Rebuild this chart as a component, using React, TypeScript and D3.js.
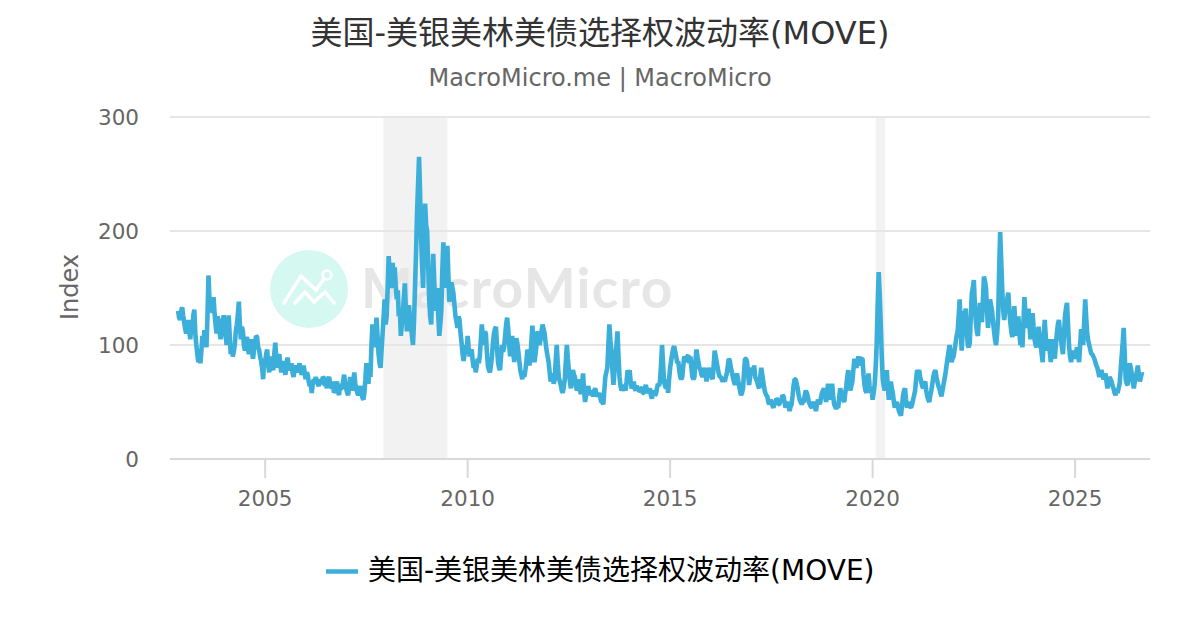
import { useEffect, useRef } from 'react';
import * as d3 from 'd3';

const TITLE = '美国-美银美林美债选择权波动率(MOVE)';
const SUBTITLE = 'MacroMicro.me | MacroMicro';
const Y_LABEL = 'Index';
const Y_TICKS = [0, 100, 200, 300];
const X_TICKS = [2005, 2010, 2015, 2020, 2025];
const RECESSIONS = [[2007.92, 2009.5], [2020.08, 2020.31]];

// about 40 samples per year
const START_YEAR = 2002.85;
const STEP = 0.025;
const v2002 = [130, 124, 122, 130, 133, 126];
const v2003 = [120, 114, 110, 118, 122, 112, 105, 116, 112, 126, 131, 110, 100, 92, 85, 96, 84, 95, 108, 100, 113, 104, 98, 125, 161, 140, 130, 135, 128, 142, 128, 118, 110, 125, 122, 112, 105, 112, 118, 126];
const v2004 = [120, 108, 100, 112, 126, 108, 92, 98, 90, 94, 100, 112, 118, 126, 138, 118, 105, 116, 112, 100, 95, 104, 107, 96, 92, 100, 105, 94, 88, 96, 100, 108, 107, 98, 96, 90, 86, 80, 70, 88];
const v2005 = [85, 92, 96, 82, 76, 84, 90, 80, 78, 92, 102, 88, 80, 88, 92, 82, 76, 82, 86, 78, 74, 82, 89, 84, 80, 78, 84, 76, 72, 78, 82, 78, 76, 80, 84, 78, 74, 76, 82, 76];
const v2006 = [70, 76, 74, 68, 64, 66, 58, 66, 70, 68, 72, 68, 66, 64, 70, 66, 68, 72, 71, 64, 66, 62, 70, 72, 68, 64, 62, 68, 58, 60, 64, 68, 60, 56, 66, 62, 62, 68, 74, 66];
const v2007 = [62, 58, 56, 64, 72, 64, 60, 66, 76, 66, 62, 58, 56, 60, 64, 58, 54, 52, 58, 70, 84, 72, 66, 80, 72, 100, 118, 106, 98, 112, 124, 108, 92, 84, 80, 96, 110, 125, 140, 118];
const v2008 = [125, 150, 178, 158, 150, 165, 172, 150, 168, 152, 140, 148, 125, 132, 108, 118, 128, 142, 154, 130, 112, 122, 135, 124, 118, 108, 100, 120, 150, 180, 215, 240, 265, 235, 195, 170, 150, 190, 224, 205];
const v2009 = [200, 170, 140, 125, 118, 150, 180, 155, 130, 140, 150, 125, 108, 118, 130, 165, 190, 170, 150, 175, 187, 160, 138, 148, 155, 150, 145, 135, 125, 120, 115, 125, 122, 110, 102, 92, 86, 92, 100, 94];
const v2010 = [108, 98, 90, 94, 96, 86, 80, 84, 76, 82, 88, 84, 90, 104, 118, 108, 100, 112, 110, 94, 82, 78, 76, 82, 90, 102, 110, 114, 116, 98, 85, 80, 78, 90, 100, 94, 98, 108, 118, 124];
const v2011 = [115, 100, 90, 100, 108, 94, 85, 96, 106, 102, 95, 86, 78, 74, 70, 76, 72, 78, 85, 96, 92, 82, 88, 104, 117, 100, 85, 92, 100, 112, 108, 100, 105, 112, 118, 114, 110, 102, 95, 90];
const v2012 = [85, 76, 68, 72, 75, 66, 70, 86, 100, 84, 72, 68, 65, 60, 58, 64, 70, 86, 100, 88, 78, 68, 62, 70, 78, 74, 72, 64, 60, 66, 70, 60, 57, 66, 75, 60, 50, 56, 58, 64];
const v2013 = [60, 56, 60, 58, 55, 60, 62, 58, 55, 56, 58, 54, 50, 50, 48, 60, 72, 76, 80, 100, 118, 104, 95, 78, 65, 76, 88, 100, 112, 90, 72, 64, 60, 62, 65, 62, 60, 68, 78, 70];
const v2014 = [78, 68, 62, 64, 68, 62, 60, 64, 62, 60, 60, 62, 62, 58, 58, 62, 65, 60, 58, 60, 62, 56, 53, 58, 60, 56, 57, 62, 66, 64, 68, 82, 100, 84, 68, 64, 62, 70, 58, 70];
const v2015 = [80, 86, 92, 97, 99, 94, 90, 84, 86, 78, 72, 70, 72, 82, 90, 88, 85, 90, 91, 84, 90, 80, 72, 70, 72, 86, 96, 90, 85, 80, 78, 74, 72, 76, 80, 74, 68, 74, 80, 76];
const v2016 = [75, 72, 70, 82, 95, 90, 85, 80, 75, 72, 72, 70, 68, 70, 68, 72, 75, 82, 88, 86, 80, 76, 72, 68, 65, 70, 75, 70, 65, 60, 56, 58, 62, 76, 88, 88, 85, 74, 65, 72];
const v2017 = [80, 78, 75, 82, 72, 70, 68, 64, 62, 72, 80, 74, 68, 62, 58, 56, 55, 50, 48, 52, 50, 47, 45, 48, 50, 53, 52, 48, 48, 52, 52, 56, 55, 50, 45, 48, 50, 46, 42, 46];
const v2018 = [48, 56, 65, 70, 70, 66, 62, 56, 52, 50, 48, 50, 50, 56, 60, 58, 55, 50, 48, 46, 45, 48, 50, 46, 42, 48, 52, 50, 48, 54, 58, 60, 62, 56, 50, 58, 66, 60, 52, 60];
const v2019 = [66, 56, 48, 46, 44, 46, 45, 54, 62, 58, 55, 52, 50, 58, 64, 72, 78, 68, 60, 64, 68, 78, 88, 84, 80, 86, 90, 86, 82, 88, 88, 74, 65, 60, 58, 68, 75, 64, 58, 62];
const v2020 = [52, 58, 65, 80, 100, 135, 164, 145, 120, 92, 70, 64, 60, 70, 78, 64, 52, 60, 68, 62, 58, 50, 45, 48, 50, 46, 42, 40, 38, 46, 55, 60, 62, 52, 45, 48, 50, 46, 45, 48];
const v2021 = [52, 56, 60, 70, 78, 74, 78, 72, 68, 64, 62, 66, 68, 60, 55, 52, 50, 56, 60, 66, 72, 76, 78, 72, 68, 64, 62, 58, 55, 60, 65, 70, 75, 82, 88, 94, 100, 92, 85, 88];
const v2022 = [90, 96, 102, 108, 112, 125, 140, 115, 95, 112, 130, 122, 132, 112, 100, 98, 102, 125, 145, 150, 157, 135, 120, 112, 108, 124, 137, 126, 120, 140, 160, 156, 150, 130, 115, 128, 140, 135, 130, 120];
const v2023 = [112, 104, 100, 110, 125, 165, 199, 175, 150, 130, 122, 130, 135, 140, 146, 132, 120, 112, 107, 120, 134, 118, 108, 118, 125, 110, 100, 104, 98, 120, 142, 126, 115, 124, 132, 116, 105, 116, 128, 116];
const v2024 = [105, 100, 98, 106, 116, 108, 100, 92, 85, 104, 122, 108, 95, 100, 105, 94, 85, 96, 105, 96, 88, 100, 110, 118, 122, 112, 105, 98, 92, 108, 125, 132, 137, 118, 100, 90, 85, 90, 95, 90];
const v2025 = [88, 94, 98, 90, 85, 100, 114, 106, 100, 120, 140, 124, 110, 104, 100, 96, 92, 92, 90, 88, 85, 82, 80, 76, 72, 76, 78, 74, 70, 72, 75, 68, 62, 68, 72, 70, 68, 64, 62, 58];
const v2026 = [56, 60, 58, 62, 66, 78, 90, 102, 115, 92, 70, 66, 65, 74, 84, 80, 75, 68, 62, 68, 72, 76, 82, 74, 68, 72, 75, 74];

const moveValues = [
  ...v2002, ...v2003, ...v2004, ...v2005, ...v2006, ...v2007, ...v2008, ...v2009, ...v2010,
  ...v2011, ...v2012, ...v2013, ...v2014, ...v2015, ...v2016, ...v2017, ...v2018, ...v2019,
  ...v2020, ...v2021, ...v2022, ...v2023, ...v2024, ...v2025, ...v2026,
];

const LINE_COLOR = '#3bafda';
const FONT = '"DejaVu Sans", "Noto Sans CJK SC", sans-serif';

export default function App() {
  const ref = useRef<SVGSVGElement>(null);

  useEffect(() => {
    if (!ref.current) return;
    const svg = d3.select(ref.current);
    svg.selectAll('*').remove();
    svg.attr('font-family', FONT);

    const x = d3.scaleLinear().domain([2002.65, 2026.85]).range([170, 1150]);
    const y = d3.scaleLinear().domain([0, 300]).range([459, 117]);

    svg.append('rect').attr('width', 1200).attr('height', 630).attr('fill', '#fff');

    // recession bands
    svg.append('g').selectAll('rect').data(RECESSIONS).enter().append('rect')
      .attr('x', d => x(d[0]))
      .attr('width', d => x(d[1]) - x(d[0]))
      .attr('y', y(300))
      .attr('height', y(0) - y(300))
      .attr('fill', '#f2f2f2');

    // watermark
    const mark = svg.append('g');
    mark.append('circle').attr('cx', 309).attr('cy', 289).attr('r', 39).attr('fill', '#d5f8f0');
    mark.append('path').attr('d', 'M284,303 L301,276 L316,290 L324,279')
      .attr('fill', 'none').attr('stroke', '#fff').attr('stroke-width', 3.5).attr('stroke-linecap', 'round');
    mark.append('path').attr('d', 'M295,303 L305,292 L314,302 L325,292 L334,303')
      .attr('fill', 'none').attr('stroke', '#fff').attr('stroke-width', 3.5).attr('stroke-linecap', 'round');
    mark.append('circle').attr('cx', 327).attr('cy', 275).attr('r', 4.5)
      .attr('fill', 'none').attr('stroke', '#fff').attr('stroke-width', 2.5);
    mark.append('text').attr('x', 361).attr('y', 308).attr('font-size', 55).attr('font-weight', 'bold')
      .attr('letter-spacing', 1.3).attr('font-family', 'Lato, sans-serif').attr('fill', '#e6e6e6').text('MacroMicro');

    // y axis with grid lines
    const yAxis = svg.append('g').attr('transform', 'translate(170,0)')
      .call(d3.axisLeft(y).tickValues(Y_TICKS).tickSize(-980).tickPadding(31).offset(0));
    yAxis.select('.domain').remove();
    yAxis.selectAll('line').attr('stroke', '#e6e6e6').attr('stroke-width', 2);
    yAxis.selectAll('text').attr('fill', '#666').attr('font-size', 21.5).attr('font-family', FONT).attr('dy', '0.38em');

    // x axis
    const xAxis = svg.append('g').attr('transform', 'translate(0,459)')
      .call(d3.axisBottom(x).tickValues(X_TICKS).tickFormat(d3.format('d')).tickSize(19).tickSizeOuter(0).tickPadding(13).offset(0));
    xAxis.select('.domain').attr('stroke', '#d8d8d8').attr('stroke-width', 2);
    xAxis.selectAll('line').attr('stroke', '#d8d8d8').attr('stroke-width', 2);
    xAxis.selectAll('text').attr('fill', '#666').attr('font-size', 21.5).attr('font-family', FONT);

    const line = d3.line<number>().x((_, i) => x(START_YEAR + i * STEP)).y(d => y(d));
    svg.append('path').datum(moveValues).attr('d', line)
      .attr('fill', 'none').attr('stroke', LINE_COLOR).attr('stroke-width', 4.6).attr('stroke-linejoin', 'bevel');

    svg.append('text').attr('x', 600).attr('y', 44).attr('text-anchor', 'middle')
      .attr('font-size', 32).attr('fill', '#333').text(TITLE);
    svg.append('text').attr('x', 600).attr('y', 86).attr('text-anchor', 'middle')
      .attr('font-size', 24).attr('fill', '#666').text(SUBTITLE);
    svg.append('text').attr('transform', 'translate(78,287) rotate(-90)').attr('text-anchor', 'middle')
      .attr('font-size', 24).attr('fill', '#666').text(Y_LABEL);

    // legend
    svg.append('line').attr('x1', 326).attr('x2', 358).attr('y1', 571.5).attr('y2', 571.5)
      .attr('stroke', LINE_COLOR).attr('stroke-width', 4.5);
    svg.append('text').attr('x', 368).attr('y', 580).attr('font-size', 28).attr('fill', '#000').text(TITLE);
  }, []);

  return <svg ref={ref} width={1200} height={630} style={{ position: 'absolute', left: 0, top: 0 }} />;
}
